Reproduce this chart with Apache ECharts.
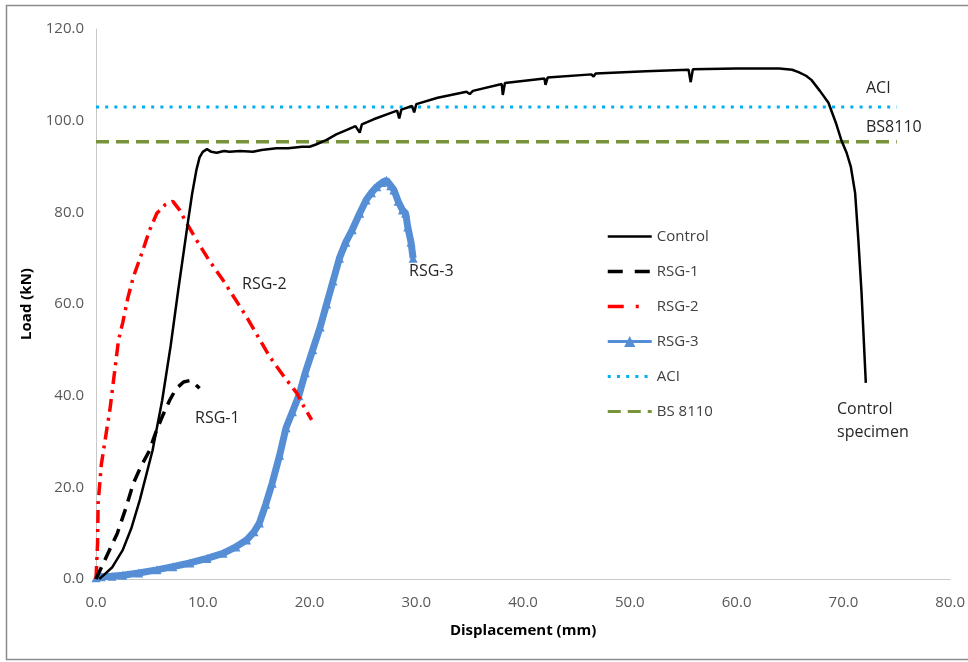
<!DOCTYPE html>
<html><head><meta charset="utf-8">
<script src="https://cdn.jsdelivr.net/npm/echarts@6/dist/echarts.min.js"></script>
<style>html,body{margin:0;padding:0;background:#fff}#c{width:968px;height:662px}</style>
</head><body><div id="c"></div>
<script>
// ---- data (displacement mm, load kN) ----
const control = [[0.3,0],[0.8,1.0],[1.5,2.5],[2.5,6.3],[3.3,11],[4.1,17.2],[5.3,28.1],[6.2,39],[7.0,51],[7.7,63],[8.6,77.7],[9.0,84],[9.4,89.2],[9.7,92],[10.0,93.2],[10.4,93.8],[10.8,93.2],[11.3,93.0],[12.0,93.4],[12.5,93.2],[13.5,93.4],[14.7,93.2],[15.5,93.6],[16.9,94],[18.0,94.0],[19.3,94.3],[20.0,94.3],[20.6,94.8],[21.6,95.8],[22.5,97.0],[23.5,98],[24.3,98.8],[24.7,97.4],[24.9,99.2],[26.0,100.3],[27.5,101.6],[28.2,102.2],[28.4,100.5],[28.6,102.4],[29.6,103.2],[29.8,101.8],[30.0,103.6],[32.0,105.0],[34.7,106.3],[35.0,105.8],[35.3,106.5],[38.0,108.0],[38.1,105.6],[38.3,108.2],[42.0,109.2],[42.1,107.8],[42.3,109.4],[46.4,110.1],[46.6,109.6],[46.8,110.3],[51.5,110.8],[55.5,111.1],[55.7,108.4],[55.9,111.2],[60,111.4],[64,111.4],[65.2,111.1],[65.8,110.6],[66.5,109.8],[67.0,108.9],[67.8,106.5],[68.6,103.9],[69.3,99.5],[69.8,95.8],[70.3,93],[70.7,89.9],[71.1,84.2],[71.4,74],[71.7,62.4],[72.1,42.8]];
const rsg1 = [[0,0],[0.1,0.4],[0.4,2],[0.7,3.5],[1.3,6.5],[2.0,10],[2.8,15.5],[3.5,20.9],[4.2,24.5],[5.0,28],[5.6,32],[6.2,35.4],[6.9,39],[7.5,41.5],[8.2,43.0],[8.8,43.3],[9.3,42.5],[9.7,41.6]];
const rsg2 = [[0,0],[0.1,0.4],[0.15,8],[0.2,16.6],[0.5,25],[1.0,32.5],[1.3,36.9],[1.8,46.3],[2.1,52],[2.5,55.9],[3.0,61.5],[3.5,65.9],[4.4,71.8],[5.0,76],[5.7,79.8],[6.5,81.7],[7.2,82.4],[7.8,80.6],[8.4,78],[9.4,74],[10.6,69.5],[11.9,65.2],[13.0,61.2],[14.1,57.2],[15.2,52.8],[16.3,48.4],[17.6,44.2],[18.8,40.6],[19.5,37.5],[20.2,34.7]];
const rsg3 = [[0,0.3],[0.5,0.5],[1.5,0.6],[2.5,0.8],[4.0,1.3],[5.7,2],[7.2,2.7],[8.8,3.5],[10.4,4.5],[11.9,5.6],[13.1,7.0],[14.1,8.5],[14.8,10.3],[15.3,12.2],[15.9,16.3],[16.5,20.9],[17.2,27],[17.8,33],[18.4,36.5],[19.0,40],[19.6,45],[20.3,50],[21.0,55],[21.6,60],[22.2,65],[22.8,70],[23.4,73.5],[24.0,76.2],[24.7,79.8],[25.3,82.7],[25.8,84.3],[26.3,85.6],[26.8,86.5],[27.2,87.0],[27.6,85.8],[27.9,84.9],[28.3,82.4],[28.7,80.5],[29.0,79.8],[29.2,76.8],[29.5,73.5],[29.7,70.0]];
const aci = [[0,103.0],[75,103.0]];
const bs8110 = [[0,95.4],[75,95.4]];
const seriesNames = ['Control','RSG-1','RSG-2','RSG-3','ACI','BS 8110'];

const FONT = 'Open Sans';
const chart = echarts.init(document.getElementById('c'));
const lbl = (x, y, text) => ({type:'text', left:x, top:y, style:{text, fill:'#262626', font:'16px "Open Sans"', lineHeight:23}});
const leg = (name, extra) => Object.assign({name, itemStyle:{opacity:0}, lineStyle:{width:3}}, extra || {});
chart.setOption({
  animation:false,
  backgroundColor:'#fff',
  textStyle:{fontFamily:FONT},
  grid:{left:96, right:16, top:29, bottom:83, containLabel:false},
  xAxis:{type:'value', min:0, max:80, interval:10,
    name:'Displacement (mm)', nameLocation:'middle', nameGap:44,
    nameTextStyle:{fontWeight:'bold', fontSize:15, color:'#000', fontFamily:FONT},
    axisLine:{show:true, lineStyle:{color:'#c8c8c8', width:1}}, axisTick:{show:false}, splitLine:{show:false},
    axisLabel:{color:'#595959', fontSize:15, margin:16, formatter:v=>v.toFixed(1)}},
  yAxis:{type:'value', min:0, max:120, interval:20,
    name:'Load (kN)', nameLocation:'middle', nameGap:62,
    nameTextStyle:{fontWeight:'bold', fontSize:15, color:'#000', fontFamily:FONT},
    axisLine:{show:true, lineStyle:{color:'#c8c8c8', width:1}}, axisTick:{show:false}, splitLine:{show:false},
    axisLabel:{color:'#595959', fontSize:15, margin:12, formatter:v=>v.toFixed(1)}},
  legend:{orient:'vertical', left:606, top:229, padding:0, itemWidth:44, itemHeight:14, itemGap:20,
    textStyle:{color:'#404040', fontSize:15, fontFamily:FONT},
    data:[leg('Control',{lineStyle:{width:2.5}}), leg('RSG-1',{lineStyle:{width:3.5, type:[15,12]}}), leg('RSG-2',{lineStyle:{width:3.5, type:[16,12,3,20]}}),
      {name:'RSG-3', lineStyle:{width:3}}, leg('ACI'), leg('BS 8110')]},
  series:[
    {name:seriesNames[4], type:'line', data:aci, symbol:'none', z:1,
      lineStyle:{color:'#00b0f0', width:3, type:[3,6.2]}, itemStyle:{color:'#00b0f0'}},
    {name:seriesNames[5], type:'line', data:bs8110, symbol:'none', z:1,
      lineStyle:{color:'#77933c', width:3.5, type:[13,7]}, itemStyle:{color:'#77933c'}},
    {name:seriesNames[3], type:'line', data:rsg3, symbol:'triangle', symbolSize:9, showSymbol:true, z:2,
      lineStyle:{color:'#558ed5', width:7}, itemStyle:{color:'#558ed5'}},
    {name:seriesNames[2], type:'line', data:rsg2, symbol:'none', z:3,
      lineStyle:{color:'#ff0000', width:3.5, type:[13,6,3,6]}, itemStyle:{color:'#ff0000'}},
    {name:seriesNames[1], type:'line', data:rsg1, symbol:'none', z:3,
      lineStyle:{color:'#000', width:3.5, type:[13,8]}, itemStyle:{color:'#000'}},
    {name:seriesNames[0], type:'line', data:control, symbol:'none', z:4,
      lineStyle:{color:'#000', width:2.5}, itemStyle:{color:'#000'}}
  ],
  graphic:[
    {type:'rect', shape:{x:6.5, y:5.5, width:975, height:654}, style:{fill:'none', stroke:'#8c8c8c', lineWidth:1.5}, silent:true},
    lbl(866, 77, 'ACI'),
    lbl(866, 116, 'BS8110'),
    lbl(242, 273, 'RSG-2'),
    lbl(195, 407, 'RSG-1'),
    lbl(409, 260, 'RSG-3'),
    lbl(837, 398, 'Control\nspecimen')
  ]
});
</script></body></html>
